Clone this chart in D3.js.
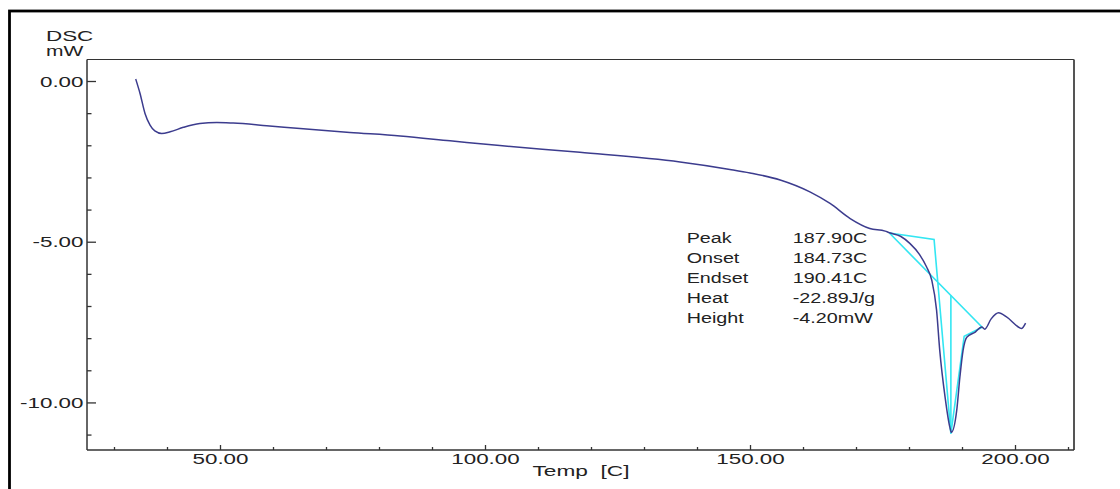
<!DOCTYPE html>
<html>
<head>
<meta charset="utf-8">
<script src="https://cdn.jsdelivr.net/npm/d3@7"></script>
<style>
  body { margin: 0; background: #fff; }
  svg { display: block; }
  text { font-family: "Liberation Sans", Arial, sans-serif; fill: #222; white-space: pre; }
</style>
</head>
<body>
<script>
// DSC curve
var tempC = [34.1, 34.9, 35.85, 36.8, 37.7, 39.0, 40.6, 43.1, 46.2, 49.4, 52.5, 58.8, 65.1,
  74.5, 84.0, 93.4, 102.8, 117.9, 136.8, 146.2, 150.0, 155.7, 161.3, 165.1, 168.9, 172.6,
  175.5, 176.3, 178.4, 180.2, 182.0, 183.3, 184.3, 185.2, 185.8, 186.8, 187.7, 188.0, 189.0,
  189.6, 190.2, 190.9, 192.5, 193.7, 194.3, 195.5, 196.9, 198.4, 200.9, 201.2, 202.0];
var dscMW = [0.06, -0.38, -1.01, -1.37, -1.55, -1.63, -1.58, -1.44, -1.32, -1.29, -1.31, -1.39, -1.48,
  -1.60, -1.71, -1.86, -2.01, -2.22, -2.52, -2.75, -2.86, -3.08, -3.45, -3.81, -4.28, -4.59,
  -4.67, -4.72, -4.83, -5.06, -5.40, -5.78, -6.20, -7.13, -8.38, -9.83, -10.77, -10.93, -10.25,
  -9.21, -8.38, -7.97, -7.81, -7.65, -7.72, -7.40, -7.21, -7.34, -7.68, -7.70, -7.53];

// peak analysis lines (start, onset, peak, endset, end, back to start)
var analysisT = [176.3, 184.73, 187.9, 190.41, 193.8, 176.3];
var analysisV = [-4.73, -4.93, -10.97, -7.94, -7.66, -4.73];
var peakT = 187.9;
var peakBaseV = -6.67;
var peakV = -10.97;

var statNames = ["Peak", "Onset", "Endset", "Heat", "Height"];
var statValues = ["187.90C", "184.73C", "190.41C", "-22.89J/g", "-4.20mW"];

var xMajor = [50, 100, 150, 200];
var xMinor = [30, 40, 60, 70, 80, 90, 110, 120, 130, 140, 160, 170, 180, 190, 210];
var yMajor = [0, -5, -10];
var yMinor = [-1, -2, -3, -4, -6, -7, -8, -9, -11];

var width = 1120, height = 489;
var plot = {left: 87, right: 1074, top: 59.5, bottom: 450};

var svg = d3.select("body").append("svg")
  .attr("width", width).attr("height", height);

// outer frame
svg.append("rect")
  .attr("x", 9.5).attr("y", 11)
  .attr("width", 1300).attr("height", 700)
  .attr("fill", "none").attr("stroke", "#000").attr("stroke-width", 2.8);

var x = d3.scaleLinear().domain([24.906, 211.13]).range([plot.left, plot.right]);
var y = d3.scaleLinear().domain([0.669, -11.48]).range([plot.top, plot.bottom]);

var fmt = function (d) { return d.toFixed(2); };

// plot box
svg.append("line").attr("x1", plot.left).attr("x2", plot.right)
  .attr("y1", plot.top).attr("y2", plot.top).attr("stroke", "#333").attr("stroke-width", 1);
svg.append("line").attr("x1", plot.right).attr("x2", plot.right)
  .attr("y1", plot.top).attr("y2", plot.bottom).attr("stroke", "#555").attr("stroke-width", 2);

// y axis, ticks pointing inside
var yAxisG = svg.append("g").attr("transform", "translate(" + plot.left + ",0)");
yAxisG.call(d3.axisLeft(y).tickValues(yMajor).tickSizeInner(-9).tickSizeOuter(0).tickFormat(fmt));
yAxisG.append("g").call(d3.axisLeft(y).tickValues(yMinor).tickSizeInner(-4.5).tickSizeOuter(0).tickFormat(""));
yAxisG.selectAll(".domain").remove();
yAxisG.append("line").attr("y1", plot.top).attr("y2", plot.bottom)
  .attr("stroke", "#333").attr("stroke-width", 1.5);

// x axis
var xAxisG = svg.append("g").attr("transform", "translate(0," + plot.bottom + ")");
xAxisG.call(d3.axisBottom(x).tickValues(xMajor).tickSizeInner(-5).tickSizeOuter(0).tickFormat(fmt));
xAxisG.append("g").call(d3.axisBottom(x).tickValues(xMinor).tickSizeInner(-3).tickSizeOuter(0).tickFormat(""));
xAxisG.selectAll(".domain").remove();
xAxisG.append("line").attr("x1", plot.left).attr("x2", plot.right)
  .attr("stroke", "#333").attr("stroke-width", 1.5);

svg.selectAll(".tick line").attr("stroke", "#333").attr("stroke-width", 1.3);

// stretch the tick labels like the instrument printout
yAxisG.selectAll(".tick text")
  .attr("x", 0).attr("dy", "0.36em")
  .attr("transform", "translate(-3.5,0) scale(1.6,1)")
  .style("font-size", "14px").style("fill", "#222");
xAxisG.selectAll(".tick text")
  .attr("y", 0).attr("dy", 0)
  .attr("transform", "translate(0,14) scale(1.6,1)")
  .style("font-size", "14px").style("fill", "#222");

function stretchedText(str, tx, ty, sx, anchor) {
  return svg.append("text")
    .attr("transform", "translate(" + tx + "," + ty + ") scale(" + sx + ",1)")
    .attr("text-anchor", anchor || "start")
    .style("font-size", "14px")
    .text(str);
}

stretchedText("DSC", 46, 40.5, 1.6);
stretchedText("mW", 46, 56, 1.5);
stretchedText("Temp  [C]", 581, 476, 1.62, "middle");

// curve
var line = d3.line()
  .x(function (d) { return x(d[0]); })
  .y(function (d) { return y(d[1]); })
  .curve(d3.curveMonotoneX);

var curveData = tempC.map(function (t, i) { return [t, dscMW[i]]; });

// analysis lines
var analysisData = analysisT.map(function (t, i) { return [t, analysisV[i]]; });
var straight = d3.line()
  .x(function (d) { return x(d[0]); })
  .y(function (d) { return y(d[1]); });

svg.append("path").attr("d", straight(analysisData))
  .attr("fill", "none").attr("stroke", "#33e6f2").attr("stroke-width", 1.6)
  .attr("stroke-linejoin", "miter");
svg.append("line")
  .attr("x1", x(peakT)).attr("x2", x(peakT))
  .attr("y1", y(peakBaseV)).attr("y2", y(peakV))
  .attr("stroke", "#33e6f2").attr("stroke-width", 1.6);

svg.append("path").attr("d", line(curveData))
  .attr("fill", "none").attr("stroke", "#3c3c8e").attr("stroke-width", 1.5);

// analysis results
statNames.forEach(function (name, i) {
  stretchedText(name, 686.7, 243.3 + i * 20, 1.41);
  stretchedText(statValues[i], 792.7, 243.3 + i * 20, 1.41);
});
</script>
</body>
</html>
